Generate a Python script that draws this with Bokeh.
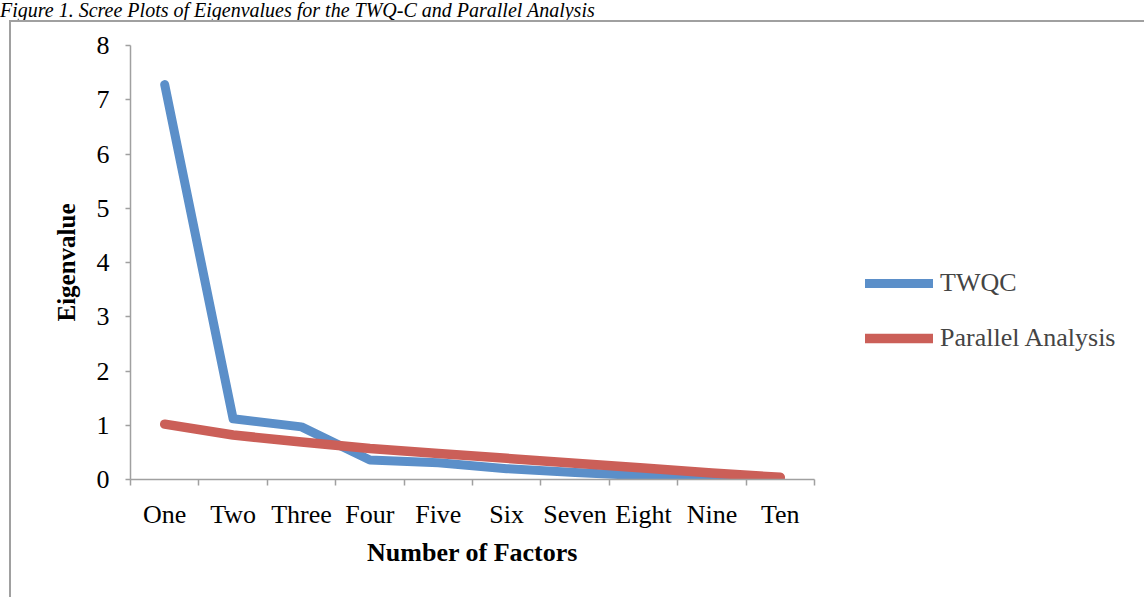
from bokeh.plotting import figure
from bokeh.models import FixedTicker, Legend, Div
from bokeh.layouts import column, row
from bokeh.embed import file_html
from bokeh.resources import INLINE

# ---- data ----
factors = ["One", "Two", "Three", "Four", "Five", "Six", "Seven", "Eight", "Nine", "Ten"]
twqc = [7.28, 1.12, 0.97, 0.36, 0.31, 0.20, 0.13, 0.07, 0.03, 0.01]
parallel = [1.02, 0.82, 0.69, 0.57, 0.48, 0.39, 0.30, 0.21, 0.12, 0.04]
series_names = ["TWQC", "Parallel Analysis"]
y_ticks = [0, 1, 2, 3, 4, 5, 6, 7, 8]
title_text = "Figure 1. Scree Plots of Eigenvalues for the TWQ-C and Parallel Analysis"

xs = list(range(1, len(factors) + 1))
FONT = "Liberation Serif"
GRAY = "#a0a0a0"
BLUE = "#5B8FC9"
RED = "#CB5F58"

title = Div(text=title_text, width=1140, height=20, margin=(0, 0, 0, 0),
            styles={"font-family": FONT, "font-style": "italic", "font-size": "20px",
                    "line-height": "20px", "color": "black", "white-space": "nowrap"})

p = figure(width=813, height=575, x_range=(0.5, len(factors) + 0.5), y_range=(0, 8),
           output_backend="svg", toolbar_location=None,
           min_border_left=119, min_border_right=10, min_border_top=23, min_border_bottom=118)
p.outline_line_color = None
p.xgrid.grid_line_color = None
p.ygrid.grid_line_color = None

p.line(xs, twqc, line_width=9, color=BLUE, line_cap="round", line_join="round")
p.line(xs, parallel, line_width=9.5, color=RED, line_cap="round", line_join="round")

# x axis
xa = p.xaxis[0]
xa.ticker = FixedTicker(ticks=xs, minor_ticks=[x - 0.5 for x in xs] + [xs[-1] + 0.5])
xa.major_label_overrides = {x: f for x, f in zip(xs, factors)}
xa.major_tick_line_color = None
xa.major_tick_out = 6
xa.major_tick_in = 0
xa.minor_tick_line_color = GRAY
xa.minor_tick_line_width = 1.5
xa.minor_tick_out = 6
xa.minor_tick_in = 0
xa.axis_line_color = GRAY
xa.axis_line_width = 1.5
xa.major_label_text_font = FONT
xa.major_label_text_font_size = "26px"
xa.major_label_text_color = "black"
xa.major_label_standoff = 14
xa.axis_label = "Number of Factors"
xa.axis_label_text_font = FONT
xa.axis_label_text_font_style = "bold"
xa.axis_label_text_font_size = "26px"
xa.axis_label_text_color = "black"
xa.axis_label_standoff = 6

# y axis
ya = p.yaxis[0]
ya.ticker = FixedTicker(ticks=y_ticks, minor_ticks=[])
ya.major_tick_line_color = GRAY
ya.major_tick_line_width = 1.5
ya.major_tick_out = 5
ya.major_tick_in = 0
ya.minor_tick_line_color = None
ya.axis_line_color = GRAY
ya.axis_line_width = 1.5
ya.major_label_text_font = FONT
ya.major_label_text_font_size = "26px"
ya.major_label_text_color = "black"
ya.major_label_standoff = 16
ya.axis_label = "Eigenvalue"
ya.axis_label_text_font = FONT
ya.axis_label_text_font_style = "bold"
ya.axis_label_text_font_size = "25px"
ya.axis_label_text_color = "black"
ya.axis_label_standoff = 14

# legend panel (separate figure to the right of the plot; its own copies of the
# series are kept outside its visible range so only the legend shows)
pl = figure(width=320, height=575, output_backend="svg", toolbar_location=None,
            x_range=(-2, -1), y_range=(-2, -1),
            min_border_left=0, min_border_right=0, min_border_top=0, min_border_bottom=0)
pl.axis.visible = False
pl.grid.visible = False
pl.outline_line_color = None
l1 = pl.line(xs, twqc, line_width=9, color=BLUE, line_cap="round")
l2 = pl.line(xs, parallel, line_width=9.5, color=RED, line_cap="round")
legend = Legend(items=[(series_names[0], [l1]), (series_names[1], [l2])],
                location=(41, 126), glyph_width=68, glyph_height=30, label_height=30,
                spacing=25, padding=0, margin=0, border_line_color=None,
                background_fill_alpha=0, label_text_font=FONT, label_text_font_size="26px",
                label_standoff=7)
pl.add_layout(legend)

body = row(p, pl, spacing=0,
           styles={"margin-left": "9px", "border-left": "2px solid #a0a0a0",
                   "border-top": "2px solid #a0a0a0"})

layout = column(title, body, spacing=0)
open("out.html", "w").write(file_html(layout, INLINE))
